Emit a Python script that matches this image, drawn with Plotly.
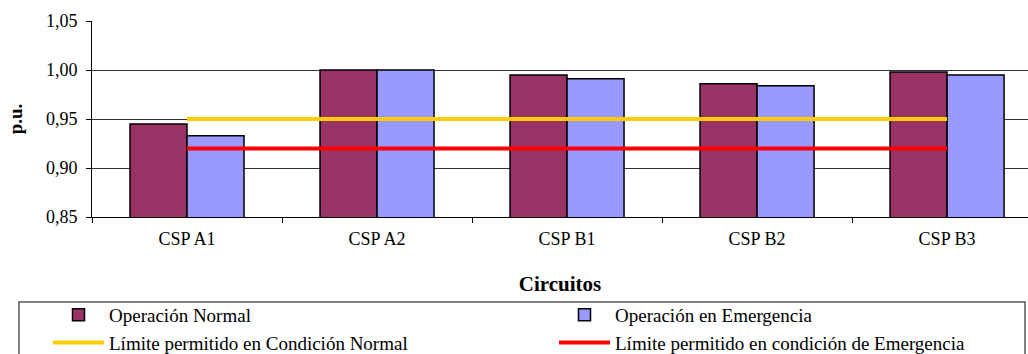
import plotly.graph_objects as go

categories = ["CSP A1", "CSP A2", "CSP B1", "CSP B2", "CSP B3"]
operacion_normal = [0.945, 1.000, 0.995, 0.986, 0.998]
operacion_emergencia = [0.933, 1.000, 0.991, 0.984, 0.995]
limite_normal = [0.95, 0.95, 0.95, 0.95, 0.95]
limite_emergencia = [0.92, 0.92, 0.92, 0.92, 0.92]
y_ticks = [0.85, 0.90, 0.95, 1.00, 1.05]

FONT = "Liberation Serif"
W, H = 1028, 354
ML, MR, MT, MB = 92, 0, 21, 137
PW, PH = W - ML - MR, H - MT - MB


def px_to_paper_x(px):
    return (px - ML) / PW


def px_to_paper_y(py):
    return (H - MB - py) / PH


fig = go.Figure()
fig.add_trace(go.Bar(
    x=categories, y=operacion_normal, name="Operación Normal",
    marker=dict(color="#993366", line=dict(color="#000000", width=1.5)),
))
fig.add_trace(go.Bar(
    x=categories, y=operacion_emergencia, name="Operación en Emergencia",
    marker=dict(color="#9999FF", line=dict(color="#000000", width=1.5)),
))
fig.add_trace(go.Scatter(
    x=categories, y=limite_normal, name="Límite permitido en Condición Normal",
    mode="lines", line=dict(color="#FFCC00", width=4),
))
fig.add_trace(go.Scatter(
    x=categories, y=limite_emergencia, name="Límite permitido en condición de Emergencia",
    mode="lines", line=dict(color="#FF0000", width=4),
))

fig.update_layout(
    width=W, height=H,
    margin=dict(l=ML, r=MR, t=MT, b=MB, autoexpand=False),
    paper_bgcolor="white", plot_bgcolor="white",
    barmode="group", bargap=0.4, bargroupgap=0,
    separators=",.",
    font=dict(family=FONT, color="#000000", size=18),
    showlegend=True,
    legend=dict(
        orientation="h",
        xref="paper", yref="paper",
        x=px_to_paper_x(48), y=px_to_paper_y(296), xanchor="left", yanchor="top",
        borderwidth=0, bgcolor="rgba(0,0,0,0)",
        font=dict(family=FONT, size=19, color="#000000"),
        itemwidth=51,
        entrywidth=440, entrywidthmode="pixels",
        traceorder="normal",
    ),
    shapes=[dict(
        type="rect", xref="paper", yref="paper",
        x0=px_to_paper_x(19), x1=px_to_paper_x(1025),
        y0=px_to_paper_y(302), y1=px_to_paper_y(380),
        line=dict(color="#555555", width=1.5), fillcolor="rgba(0,0,0,0)",
        layer="below",
    )],
)

fig.update_xaxes(
    type="category",
    range=[-0.5, 4.426],
    showline=True, linecolor="#000000", linewidth=1,
    ticks="outside", ticklen=5, tickcolor="#000000", tickson="boundaries",
    ticklabelstandoff=5,
    showgrid=False,
    tickfont=dict(family=FONT, size=18),
    title=dict(text="<b>Circuitos</b>", font=dict(family=FONT, size=21), standoff=28),
)
fig.update_yaxes(
    range=[0.85, 1.05],
    tickvals=y_ticks, tickformat=".2f",
    showline=True, linecolor="#000000", linewidth=1,
    ticks="outside", ticklen=5, tickcolor="#000000",
    ticklabelstandoff=5,
    showgrid=True, gridcolor="#333333", gridwidth=1,
    zeroline=False,
    tickfont=dict(family=FONT, size=18),
    title=dict(text="<b>p.u.</b>", font=dict(family=FONT, size=19), standoff=18),
)

fig.write_html("out.html")
